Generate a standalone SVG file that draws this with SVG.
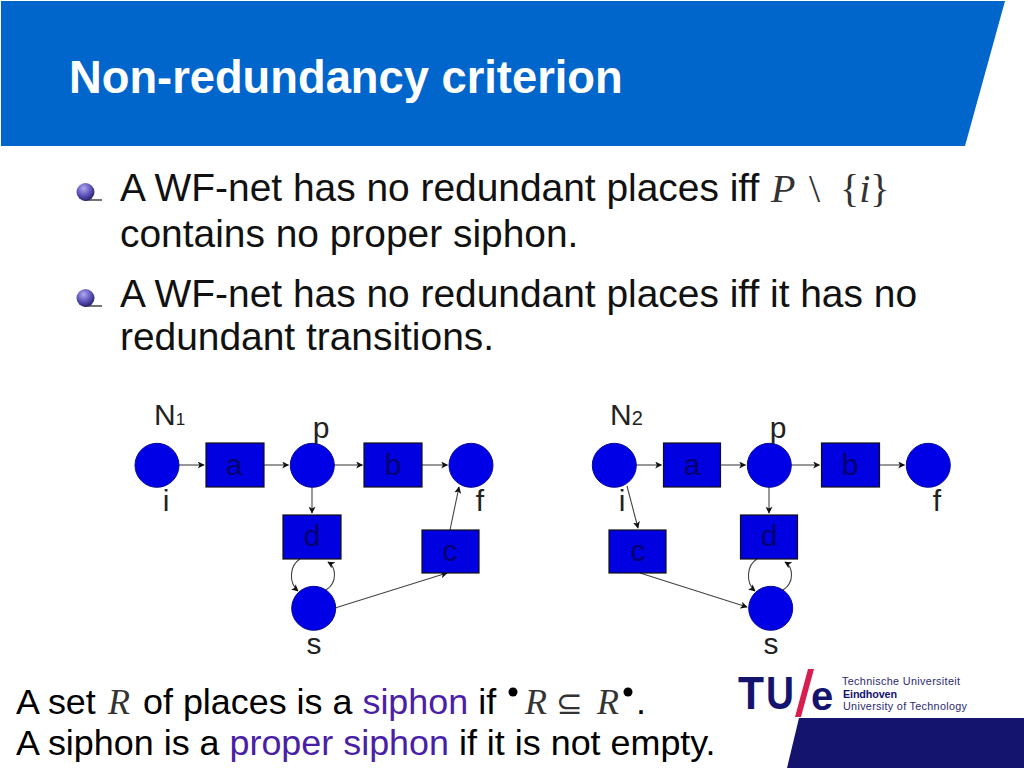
<svg xmlns="http://www.w3.org/2000/svg" width="1024" height="768" viewBox="0 0 1024 768">
<style>
text{font-family:"Liberation Sans",Arial,sans-serif;fill:#000}
.title{font-size:45.300px;font-weight:700;fill:#fff}
.b{font-size:38.900px;fill:#111}
.m{font-family:"Liberation Serif","DejaVu Serif",serif;fill:#333}
.i{font-style:italic}
.n{font-size:30px;fill:#00006e;text-anchor:middle}
.lb{font-size:30px;fill:#222;text-anchor:middle}
.st{font-size:30px;fill:#222}
.foot{font-size:35.900px}
.v{fill:#4a1fa8}
.pl{fill:#0000e6;stroke:#0a0a90;stroke-width:1}
.tr{fill:#0000e0;stroke:#111;stroke-width:1.2}
.e{fill:none;stroke:#444;stroke-width:1.1;marker-end:url(#ah)}
.logo{fill:#14146e}
.s1{font-size:10.800px;fill:#2a2a70}
</style>
<defs>
<marker id="ah" viewBox="0 0 10 10" refX="9" refY="5" markerWidth="7" markerHeight="7" markerUnits="userSpaceOnUse" orient="auto"><path d="M0 0L10 5L0 10L2.500 5Z" fill="#111"/></marker>
<radialGradient id="ball" cx="40%" cy="30%" r="70%"><stop offset="0" stop-color="#b0a8ee"/><stop offset=".6" stop-color="#5a50b8"/><stop offset="1" stop-color="#28246a"/></radialGradient>
<g id="bul"><path d="M84 8H102" stroke="#444" stroke-width="1.500"/><circle cx="85.500" cy="0" r="9" fill="url(#ball)"/></g>
</defs>
<rect width="1024" height="768" fill="#fff"/>
<path id="banner" d="M1 1H1005L965 146H1Z" fill="#0066cc"/>
<text class="title" x="69" y="93">Non-redundancy criterion</text>

<use href="#bul" y="192"/>
<text class="b" x="120" y="201">A WF-net has no redundant places iff</text>
<text class="m i" font-size="40" x="771" y="202">P</text><text class="m" font-size="40" x="809" y="202">\</text><text class="m" font-size="40" x="840" y="202">{<tspan class="i">i</tspan>}</text>
<text class="b" x="120" y="247">contains no proper siphon.</text>
<use href="#bul" y="298"/>
<text class="b" x="120" y="307">A WF-net has no redundant places iff it has no</text>
<text class="b" x="120" y="350">redundant transitions.</text>

<g id="connectors">
<path class="e" d="M179 465H204"/><path class="e" d="M264 465H288.500"/><path class="e" d="M334 465H362.500"/><path class="e" d="M422 465H447.500"/>
<path class="e" d="M312 487V513"/>
<path class="e" d="M300 559C290 565 288 582 298 591"/>
<path class="e" d="M326 590C338 582 336 567 328 562"/>
<path class="e" d="M335 608L447 573"/>
<path class="e" d="M450 530L459 487"/>
<path class="e" d="M636 465H661.500"/><path class="e" d="M720.500 465H745.500"/><path class="e" d="M791 465H819.500"/><path class="e" d="M879.500 465H904.500"/>
<path class="e" d="M769 487V513"/>
<path class="e" d="M627 486L638 528"/>
<path class="e" d="M757 559C747 565 745 582 755 591"/>
<path class="e" d="M783 590C795 582 793 567 785 562"/>
<path class="e" d="M640 573L747 607"/>
</g>

<g id="N1-label"><text class="st" x="154" y="425">N<tspan font-size="17">1</tspan></text></g>
<g id="n1-i"><circle class="pl" cx="157" cy="465.300" r="22"/><text class="lb" x="166" y="511">i</text></g>
<g id="n1-a"><rect class="tr" x="206" y="443" width="58" height="44"/><text class="n" x="234" y="475">a</text></g>
<g id="n1-p"><circle class="pl" cx="312.300" cy="465.300" r="22"/><text class="lb" x="321" y="438">p</text></g>
<g id="n1-b"><rect class="tr" x="364" y="443" width="58" height="44"/><text class="n" x="393" y="475">b</text></g>
<g id="n1-f"><circle class="pl" cx="471" cy="465.300" r="22"/><text class="lb" x="480" y="511">f</text></g>
<g id="n1-d"><rect class="tr" x="283" y="515" width="58" height="44"/><text class="n" x="312" y="546">d</text></g>
<g id="n1-c"><rect class="tr" x="422" y="530" width="57" height="43"/><text class="n" x="450" y="561">c</text></g>
<g id="n1-s"><circle class="pl" cx="313.700" cy="608.300" r="22"/><text class="lb" x="314" y="654">s</text></g>

<g id="N2-label"><text class="st" x="610" y="425">N<tspan font-size="20">2</tspan></text></g>
<g id="n2-i"><circle class="pl" cx="614.300" cy="465.300" r="22"/><text class="lb" x="622" y="511">i</text></g>
<g id="n2-a"><rect class="tr" x="663.500" y="443" width="57" height="44"/><text class="n" x="692" y="475">a</text></g>
<g id="n2-p"><circle class="pl" cx="769.300" cy="465.300" r="22"/><text class="lb" x="778" y="438">p</text></g>
<g id="n2-b"><rect class="tr" x="821.500" y="443" width="58" height="44"/><text class="n" x="850" y="475">b</text></g>
<g id="n2-f"><circle class="pl" cx="928.300" cy="465.300" r="22"/><text class="lb" x="937" y="511">f</text></g>
<g id="n2-d"><rect class="tr" x="740.500" y="515" width="57" height="44"/><text class="n" x="769" y="546">d</text></g>
<g id="n2-c"><rect class="tr" x="609" y="530" width="57" height="43"/><text class="n" x="638" y="561">c</text></g>
<g id="n2-s"><circle class="pl" cx="770.700" cy="608.300" r="22"/><text class="lb" x="771" y="654">s</text></g>

<text class="foot" x="16" y="714">A set</text>
<text class="m i" font-size="36" x="108" y="714">R</text>
<text class="foot" x="143" y="714">of places is a <tspan class="v">siphon</tspan> if</text>
<text class="m i" font-size="36" x="525" y="714">R</text>
<text x="556" y="714" font-size="32" style="font-family:'DejaVu Sans',sans-serif;fill:#333">⊆</text>
<text class="m i" font-size="36" x="597" y="714">R</text>
<circle cx="513" cy="692" r="4.500" fill="#000"/><circle cx="628" cy="692" r="4.500" fill="#000"/>
<text class="foot" x="636" y="714">.</text>
<text class="foot" x="16" y="755">A siphon is a <tspan class="v">proper siphon</tspan> if it is not empty.</text>

<g id="logo">
<path d="M787 768L799 718H1024V768Z" class="logo"/>
<text x="738" y="709" font-size="46" font-weight="700" textLength="26" lengthAdjust="spacingAndGlyphs" style="fill:#14146e">T</text>
<text x="766" y="709" font-size="46" font-weight="700" textLength="28" lengthAdjust="spacingAndGlyphs" style="fill:#14146e">U</text>
<path d="M795 717L808 669H814L801 717Z" fill="#d81e50"/>
<text x="811" y="710" font-size="40" font-weight="700" style="fill:#14146e">e</text>
<text class="s1" x="842" y="685" textLength="118" lengthAdjust="spacing">Technische Universiteit</text>
<text class="s1" x="843" y="697.500" font-weight="700" textLength="54" lengthAdjust="spacing" style="fill:#14146e">Eindhoven</text>
<text class="s1" x="843" y="710" textLength="124" lengthAdjust="spacing">University of Technology</text>
</g>
</svg>
